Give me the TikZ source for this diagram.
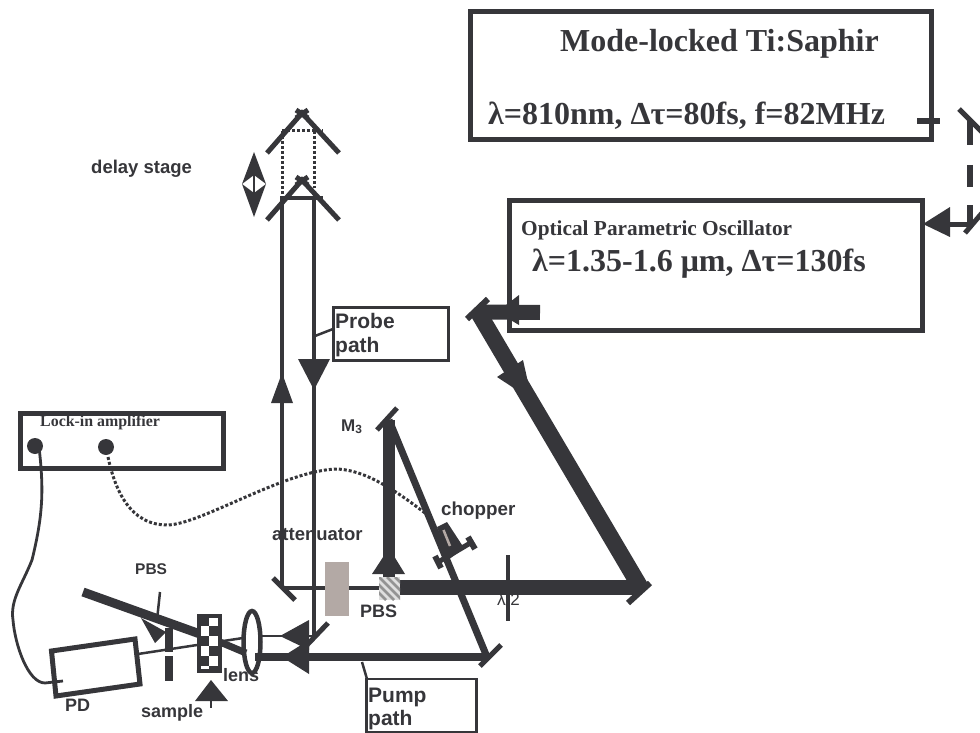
\documentclass[tikz,border=0pt]{standalone}
\usepackage{fontspec}
\setmainfont{Liberation Serif}
\setsansfont{Liberation Sans}
\definecolor{ink}{HTML}{36363A}
\definecolor{atten}{HTML}{B3A9A5}
\tikzset{
  every node/.style={text=ink},
  panel/.style={draw=ink,line width=5pt,inner sep=0pt},
  tag/.style={draw=ink,line width=2.8pt,inner sep=0pt},
  ser/.style={anchor=base west,inner sep=0pt,font=\bfseries\rmfamily},
  san/.style={anchor=base west,inner sep=0pt,font=\bfseries\sffamily},
  mirror/.style={draw=ink,line width=5pt},
  beamA/.style={draw=ink,line width=4pt},
  beamB/.style={draw=ink,line width=8pt},
  beamC/.style={draw=ink,line width=11.5pt},
  beamD/.style={draw=ink,line width=15pt,line join=miter},
  head/.style={fill=ink,draw=none},
  thin/.style={draw=ink,line width=2.5pt},
}
\begin{document}
\begin{tikzpicture}[x=1pt,y=-1pt]
\useasboundingbox (0,0) rectangle (980,733);

% --- named points of the optical layout
\coordinate (tm1) at (970,121);
\coordinate (tm2) at (970,224);
\coordinate (om) at (478,312);
\coordinate (cm) at (642,590);
\coordinate (pbsc) at (389,588);
\coordinate (m3) at (389,420);
\coordinate (pm) at (487,657);
\coordinate (pmL) at (255,657);
\coordinate (probeL) at (282,588);
\coordinate (probeT1) at (282,198);
\coordinate (probeT2) at (314,198);
\coordinate (probeB) at (314,636);
\coordinate (probeF) at (262,636);
\coordinate (sa) at (83,592);
\coordinate (sb) at (200,634);
\coordinate (sc) at (220,642);
\coordinate (sd) at (246,653);
\coordinate (pdin) at (138,654);
\coordinate (lensin) at (243,638);
\coordinate (probeleader) at (333,329);
\coordinate (lensc) at (252,642);

% --- boxes
\node[panel,minimum width=461pt,minimum height=128pt] (laser) at (701,76) {};
\node[panel,minimum width=413pt,minimum height=130pt] (opo) at (716,265) {};
\node[panel,minimum width=203pt,minimum height=55pt] (lockin) at (122,440.5) {};
\node[tag,minimum width=115pt,minimum height=53pt] (probebox) at (391,334) {};
\node[tag,minimum width=110pt,minimum height=53pt] (pumpbox) at (421.5,705.5) {};

% --- texts
\node[ser,font=\bfseries\rmfamily\fontsize{32}{32}\selectfont] (t1) at (560,52) {Mode-locked Ti:Saphir};
\node[ser,font=\bfseries\rmfamily\fontsize{32}{32}\selectfont] (t2) at (488,125) {λ=810nm, Δτ=80fs, f=82MHz};
\node[ser,font=\bfseries\rmfamily\fontsize{21.3}{21.3}\selectfont] (t3) at (521,235) {Optical Parametric Oscillator};
\node[ser,font=\bfseries\rmfamily\fontsize{32}{32}\selectfont] (t4) at (532,271) {λ=1.35-1.6 μm, Δτ=130fs};
\node[ser,font=\bfseries\rmfamily\fontsize{15.9}{15.9}\selectfont] (t5) at (40,426) {Lock-in amplifier};
\node[san,font=\bfseries\sffamily\fontsize{21}{21}\selectfont] (t6) at (335,328) {Probe};
\node[san,font=\bfseries\sffamily\fontsize{21}{21}\selectfont] (t7) at (335,352) {path};
\node[san,font=\bfseries\sffamily\fontsize{21}{21}\selectfont] (t8) at (368,702) {Pump};
\node[san,font=\bfseries\sffamily\fontsize{21}{21}\selectfont] (t9) at (368,725) {path};
\node[san,font=\bfseries\sffamily\fontsize{18.5}{18.5}\selectfont] (t10) at (91,173) {delay stage};
\node[san,font=\bfseries\sffamily\fontsize{18.5}{18.5}\selectfont] (t11) at (272,540) {attenuator};
\node[san,font=\bfseries\sffamily\fontsize{18.8}{18.8}\selectfont] (t12) at (441,515) {chopper};
\node[san,font=\bfseries\sffamily\fontsize{17}{17}\selectfont] (t13) at (341,431) {M\textsubscript{3}};
\node[san,font=\bfseries\sffamily\fontsize{18}{18}\selectfont] (t14) at (360,617) {PBS};
\node[san,font=\bfseries\sffamily\fontsize{15.5}{15.5}\selectfont] (t15) at (135,574) {PBS};
\node[san,font=\bfseries\sffamily\fontsize{18}{18}\selectfont] (t16) at (141,717) {sample};
\node[san,font=\bfseries\sffamily\fontsize{18}{18}\selectfont] (t17) at (223,681) {lens};
\node[san,font=\bfseries\sffamily\fontsize{18}{18}\selectfont] (t18) at (65,711) {PD};
\node[san,font=\sffamily\fontsize{17}{17}\selectfont] (t19) at (497,605) {λ/2};

% --- Ti:Sa to OPO, dashed
\draw[draw=ink,line width=6pt] (917,121) -- (940,121);
\draw[draw=ink,line width=6pt] (tm1) -- (970,145);
\draw[draw=ink,line width=6pt] (970,165) -- (970,187);
\draw[draw=ink,line width=6pt] (970,205) -- (tm2);
\draw[draw=ink,line width=5pt] (945,224) -- (tm2);
\draw[mirror] (959,109) -- (982,132);
\draw[mirror] (965,233) -- (982,213);
\fill[head] (923,224) -- (950,207) -- (950,237) -- cycle;

% --- delay stage
\draw[draw=ink,line width=3pt,dotted] (282,131) -- (323,131);
\draw[draw=ink,line width=3pt,dotted] (282,131) -- (282,198);
\draw[draw=ink,line width=3pt,dotted] (314,131) -- (314,188);
\draw[mirror] (267,153) -- (302,113) -- (339,153);
\draw[mirror] (296,110) -- (308,118);
\draw[mirror] (308,110) -- (296,118);
\draw[mirror] (267,220) -- (302,180) -- (339,220);
\draw[mirror] (296,177) -- (308,185);
\draw[mirror] (308,177) -- (296,185);
\fill[head] (254,152) -- (266,184) -- (254,175) -- (242,184) -- cycle;
\fill[head] (254,217) -- (266,184) -- (254,193) -- (242,184) -- cycle;
\draw[draw=ink,line width=1.5pt] (254,172) -- (254,196);

% --- probe path
\draw[beamA] (probeL) -- (probeT1) -- (323,198);
\draw[beamA] (probeT2) -- (probeB);
\draw[beamA] (probeL) -- (pbsc);
\draw[thin] (probeB) -- (probeF);
\draw[mirror] (273,578) -- (295,600);
\draw[mirror] (307,645) -- (328,623);
\fill[head] (282,373) -- (293,403) -- (271,403) -- cycle;
\fill[head] (314,390) -- (298,359) -- (330,359) -- cycle;
\draw[thin] (315,336) -- (probeleader);
\draw[thin] (362,662) -- (367,679);

% --- attenuator
\fill[atten] (325,562) rectangle (349,616);

% --- pump path
\draw[mirror] (377,430) -- (397,408);
\draw[draw=ink,line width=7pt] (m3) -- (pm);
\draw[beamC] (m3) -- (pbsc);
\draw[beamB] (pm) -- (pmL);
\draw[mirror] (480,666) -- (501,645);
\fill[head] (389,548) -- (405,574) -- (372,574) -- cycle;
\fill[head] (282,657) -- (309,640) -- (309,674) -- cycle;
\fill[head] (280,636) -- (309,620) -- (309,650) -- cycle;

% --- half-wave plate
\draw[draw=ink,line width=4pt] (508,555) -- (508,621);

% --- thick beam
\draw[draw=ink,line width=16.5pt] (om) -- (cm);
\draw[beamD] (400,587.5) -- (638,587.5);
\draw[mirror,line width=6pt] (628,603) -- (650,583);
\draw[draw=ink,line width=15pt] (540,312.5) -- (om);
\draw[mirror,line width=6pt] (467,319) -- (488,299);
\fill[head] (497,312) -- (519,295) -- (519,325) -- cycle;
\fill[head] (497,377) -- (523,360) -- (532,400) -- cycle;

% --- polarising beam splitter
\begin{scope}
\clip (379,577) rectangle (400,600);
\fill[gray!25] (379,577) rectangle (400,600);
\foreach \k in {-24,-16,...,32}
  \draw[draw=gray!85,line width=2.6pt] (379+\k,577) -- (379+\k+23,600);
\end{scope}

% --- chopper
\fill[ink] (437,527) -- (447,522) -- (464,548) -- (448,560) -- cycle;
\draw[draw=atten,line width=2.5pt] (443.5,530) -- (450,546);
\draw[draw=ink,line width=5pt] (440,561) -- (472,542);
\draw[draw=ink,line width=6pt] (435,556) -- (441,568);
\draw[draw=ink,line width=6pt] (468,537) -- (475,549);

% --- lock-in
\fill[ink] (35,446) circle (8);
\fill[ink] (106,447) circle (8);
\draw[draw=ink,line width=2.8pt] (39,447) .. controls (44,490) and (43,515) .. (32,560)
  .. controls (22,585) and (10,600) .. (13,620)
  .. controls (15,645) and (28,683) .. (45,683) -- (63,681);
\draw[draw=ink,line width=3pt,dotted] (108,457) .. controls (115,490) and (130,525) .. (167,525)
  .. controls (200,525) and (285,470) .. (337,469)
  .. controls (365,470) and (395,490) .. (425,513);

% --- detector side
\draw[beamB,line width=9pt] (sa) -- (sb);
\draw[beamB,line width=7pt] (sc) -- (sd);
\draw[thin] (pdin) -- (lensin);
\draw[thin] (160,592) -- (157,620);
\fill[head] (141,618) -- (166,632) -- (155,643) -- cycle;
\draw[draw=ink,line width=8pt] (169,628) -- (169,652);
\draw[draw=ink,line width=8pt] (169,656) -- (169,681);
\draw[draw=ink,line width=5pt,line join=miter] (51.5,651) -- (135,639) -- (140,684) -- (56,696) -- cycle;

% --- sample
\fill[ink] (197,614) rectangle (222,673);
\fill[white] (209,618) rectangle (218,626);
\fill[white] (201,626) rectangle (209,636);
\fill[white] (209,636) rectangle (218,646);
\fill[white] (201,646) rectangle (209,656);
\fill[white] (209,656) rectangle (218,666);
\fill[white] (201,666) rectangle (209,669);
\fill[head] (211,680) -- (228,701) -- (195,701) -- cycle;
\draw[draw=ink,line width=2pt] (211,700) -- (211,708);

% --- lens
\draw[draw=ink,line width=4.5pt] (lensc) ellipse (8.5 and 31);
\end{tikzpicture}
\end{document}
